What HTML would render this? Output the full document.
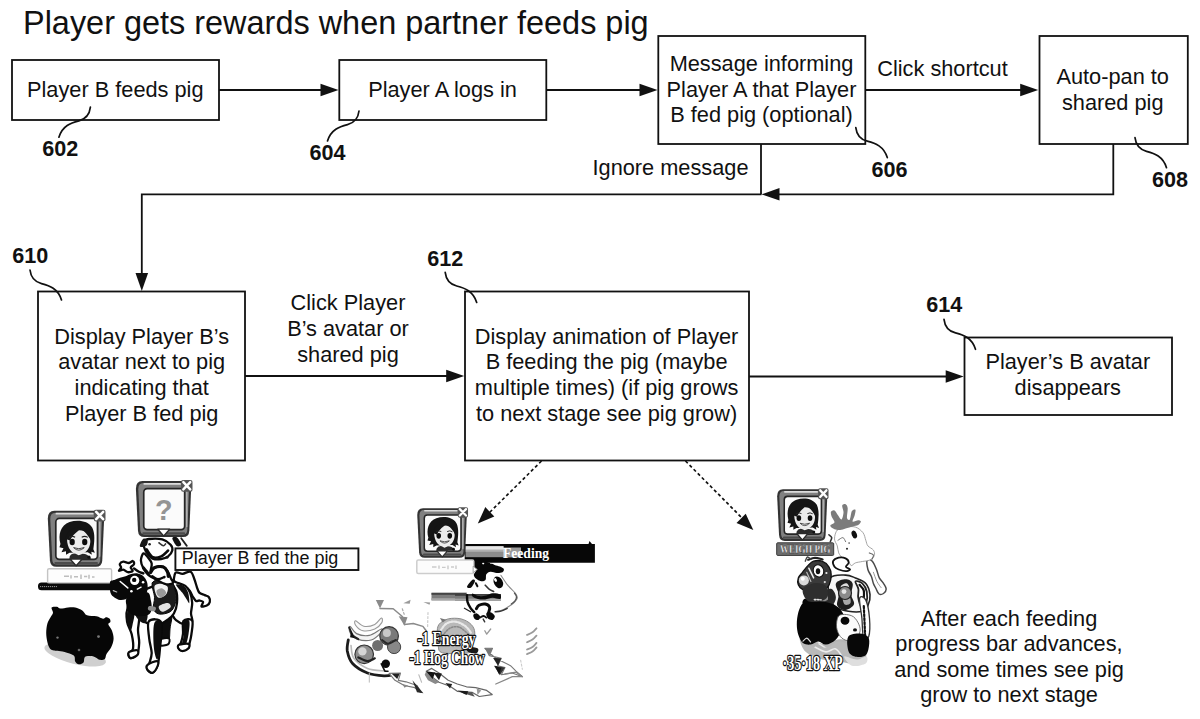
<!DOCTYPE html>
<html lang="en">
<head>
<meta charset="utf-8">
<title>Player gets rewards when partner feeds pig</title>
<style>
html,body{margin:0;padding:0;background:#fff;}
body{width:1200px;height:719px;overflow:hidden;position:relative;font-family:"Liberation Sans",sans-serif;}
svg{position:absolute;left:0;top:0;display:block;}
text{font-family:"Liberation Sans",sans-serif;fill:#111;}
.t{font-size:21.75px;text-anchor:middle;}
.n{font-size:21.6px;font-weight:bold;}
.bx{fill:#fff;stroke:#111;stroke-width:1.8;}
.ln{fill:none;stroke:#111;stroke-width:1.8;}
.ld{fill:none;stroke:#111;stroke-width:1.7;stroke-linecap:round;}
.ah{fill:#111;stroke:none;}
</style>
</head>
<body>
<svg width="1200" height="719" viewBox="0 0 1200 719">
<rect width="1200" height="719" fill="#fff"/>
<!-- TITLE -->
<text x="23" y="34.2" style="font-size:32.45px">Player gets rewards when partner feeds pig</text>

<!-- BOXES -->
<rect class="bx" x="12" y="60" width="207" height="60"/>
<rect class="bx" x="339.3" y="60" width="207" height="60"/>
<rect class="bx" x="658.3" y="36" width="207" height="108"/>
<rect class="bx" x="1039.5" y="36" width="148.3" height="108"/>
<rect class="bx" x="38" y="291.5" width="207" height="169"/>
<rect class="bx" x="465" y="291.5" width="284" height="169"/>
<rect class="bx" x="964.5" y="337.5" width="207.5" height="77.5"/>

<!-- CONNECTORS -->
<path class="ln" d="M219 90H322"/><path class="ah" d="M338.5 90l-18-6.3v12.6z"/>
<path class="ln" d="M546.3 90H641"/><path class="ah" d="M657.5 90l-18-6.3v12.6z"/>
<path class="ln" d="M865.3 90H1022"/><path class="ah" d="M1038.2 90l-18-6.3v12.6z"/>
<path class="ln" d="M761 144V194.3"/>
<path class="ln" d="M1113.3 144V194.3H778"/><path class="ah" d="M761.5 194.3l18-6.3v12.6z"/>
<path class="ln" d="M761.5 194.3H141.8V275"/><path class="ah" d="M141.8 291l-6.3-18h12.6z"/>
<path class="ln" d="M245 376H448"/><path class="ah" d="M464.2 376l-18-6.3v12.6z"/>
<path class="ln" d="M749 376.5H947"/><path class="ah" d="M963.7 376.5l-18-6.3v12.6z"/>

<!-- BOX TEXT -->
<text class="t" x="115.3" y="96.7">Player B feeds pig</text>
<text class="t" x="442.5" y="96.7">Player A logs in</text>
<text class="t" x="761.5" y="71">Message informing</text>
<text class="t" x="761.5" y="96.7">Player A that Player</text>
<text class="t" x="761.5" y="122.3">B fed pig (optional)</text>
<text class="t" x="942.5" y="75.8">Click shortcut</text>
<text class="t" x="1112.7" y="84">Auto-pan to</text>
<text class="t" x="1112.7" y="109.7">shared pig</text>
<text class="t" x="670.5" y="174.6">Ignore message</text>
<text class="t" x="141.7" y="343.5">Display Player B’s</text>
<text class="t" x="141.7" y="369.3">avatar next to pig</text>
<text class="t" x="141.7" y="395">indicating that</text>
<text class="t" x="141.7" y="420.8">Player B fed pig</text>
<text class="t" x="348" y="310">Click Player</text>
<text class="t" x="348" y="335.7">B’s avatar or</text>
<text class="t" x="348" y="361.5">shared pig</text>
<text class="t" x="606.6" y="343.7">Display animation of Player</text>
<text class="t" x="606.6" y="369.3">B feeding the pig (maybe</text>
<text class="t" x="606.6" y="395">multiple times) (if pig grows</text>
<text class="t" x="606.6" y="420.8">to next stage see pig grow)</text>
<text class="t" x="1067.8" y="369.3">Player’s B avatar</text>
<text class="t" x="1067.8" y="395">disappears</text>
<text class="t" x="1009" y="625.7">After each feeding</text>
<text class="t" x="1009" y="651.4">progress bar advances,</text>
<text class="t" x="1009" y="677">and some times see pig</text>
<text class="t" x="1009" y="702.4">grow to next stage</text>

<!-- REFERENCE NUMBERS -->
<text class="n" x="42.2" y="156.3">602</text>
<text class="n" x="309.5" y="160.2">604</text>
<text class="n" x="871.5" y="176.8">606</text>
<text class="n" x="1152" y="187.3">608</text>
<text class="n" x="12.3" y="262.8">610</text>
<text class="n" x="427.3" y="265.8">612</text>
<text class="n" x="926.3" y="312.3">614</text>

<!-- LEADERS -->
<path class="ld" d="M90.4 107.2c-0.8 7 -5 12 -11.5 13.6c-8 2 -16.5 5 -20 16.4"/>
<path class="ld" d="M359 111c-0.8 7 -5 12 -11.5 13.6c-8 2 -16.5 5 -20 16.4"/>
<path class="ld" d="M855.8 127.6c0.8 7 5 12 11.5 13.6c8 2 16.5 5 20 16.4"/>
<path class="ld" d="M1135 137.7c0.8 7 5 12 11.5 13.6c8 2 16.5 5 20 16.4"/>
<path class="ld" d="M30 270c0.8 7 5 12 11.5 13.6c8 2 16.5 5 20 16.4"/>
<path class="ld" d="M445.2 272.4c0.8 7 5 12 11.5 13.6c8 2 16.5 5 20 16.4"/>
<path class="ld" d="M944 319.3c0.8 7 5 12 11.5 13.6c8 2 16.5 5 20 16.4"/>

<!-- DOTTED ARROWS -->
<path d="M541.5 461L487 515" fill="none" stroke="#111" stroke-width="1.7" stroke-dasharray="3.2 2.6"/>
<path class="ah" d="M477.8 523.6l7.5-16.5 9 9.4z"/>
<path d="M685.5 461L744 520" fill="none" stroke="#111" stroke-width="1.7" stroke-dasharray="3.2 2.6"/>
<path class="ah" d="M753.3 530l-16.8-7 9.2-9.3z"/>

<!-- ILLUSTRATIONS -->
<g id="ill1">
<ellipse cx="75.2" cy="654.7" rx="31.7" ry="9.2" fill="#cfcfcf" transform="rotate(14 75.2 654.7)"/>
<path d="M51.6 607.4 C52.2 606.4 55.4 606.6 56.9 606.8 C58.4 607.0 58.5 608.5 60.4 608.6 C62.3 608.7 65.6 607.6 68.1 607.4 C70.6 607.2 72.8 607.0 75.2 607.5 C77.6 608.0 80.3 609.1 82.3 610.4 C84.3 611.7 84.6 614.3 87.0 615.3 C89.4 616.3 93.8 615.7 96.5 616.3 C99.2 616.9 101.4 618.6 103.0 618.7 C104.6 618.9 104.9 617.2 106.0 617.2 C107.1 617.2 109.0 617.9 109.7 618.7 C110.4 619.5 110.6 621.1 110.4 622.0 C110.2 622.9 108.0 622.9 108.3 624.3 C108.5 625.7 111.0 628.1 111.9 630.5 C112.8 632.9 113.7 636.0 113.6 638.8 C113.5 641.5 112.5 644.5 111.3 647.0 C110.1 649.5 107.6 652.1 106.5 654.1 C105.4 656.1 106.0 658.0 104.8 658.9 C103.6 659.8 101.3 660.2 99.5 659.8 C97.7 659.4 96.5 657.2 94.1 656.7 C91.7 656.2 87.1 655.7 85.3 656.7 C83.5 657.7 84.6 661.3 83.5 662.6 C82.4 663.9 80.2 664.5 78.8 664.3 C77.4 664.1 76.0 663.0 75.2 661.5 C74.4 660.0 75.6 657.1 73.8 655.5 C72.0 653.9 67.3 652.8 64.6 652.0 C61.9 651.2 59.3 651.0 57.5 650.8 C55.7 650.6 55.1 650.9 53.9 650.6 C52.7 650.3 51.2 650.2 50.1 648.8 C49.0 647.4 48.0 645.0 47.4 642.3 C46.8 639.6 46.2 635.9 46.2 632.8 C46.2 629.6 46.7 625.9 47.4 623.4 C48.1 620.9 49.5 619.3 50.4 617.5 C51.3 615.7 52.8 614.4 53.0 612.7 C53.2 611.0 51.0 608.4 51.6 607.4Z" fill="#060606"/>
<circle cx="57.5" cy="637.6" r="1.2" fill="#777"/><circle cx="98.5" cy="636.6" r="1.4" fill="#777"/><circle cx="79.0" cy="650.0" r="1.3" fill="#666"/>
<rect x="38" y="582.6" width="82" height="7.6" rx="3.5" fill="#0a0a0a"/>
<rect x="47.6" y="568.7" width="64" height="14.2" rx="1.5" fill="#fdfdfd" stroke="#c4c4c4" stroke-width="1.4"/>
<path d="M64 576.2h5M71 575.2v3.4M74 576.8h4M81 574.6v4.4M84 576.4h3.2M89 574.8v4M92 577h2.5" stroke="#bdbdbd" stroke-width="1.5" fill="none"/>
<path d="M40 586.6h17" stroke="#9a9a9a" stroke-width="1" stroke-dasharray="1.2 0.8" fill="none"/>
<g transform="translate(47.3 510.3) scale(1.012 1.023)">
<path d="M7 0.5H52.5Q56.5 0.5 56.3 5L54.3 49Q54 55.2 48 55.2H9Q3 55.2 2.6 49L0.5 8Q0.5 0.5 7 0.5Z" fill="#333"/>
<path d="M8 2.4H51Q54.2 2.4 54.1 6L52.3 48.5Q52 53 48 53H9.5Q5.2 53 4.9 48.5L2.9 8.5Q2.9 2.4 8 2.4Z" fill="#808080"/>
<path d="M9 3.3H45" stroke="#dcdcdc" stroke-width="1.7" fill="none" stroke-linecap="round"/>
<path d="M51.6 11V45" stroke="#b2b2b2" stroke-width="1.6" fill="none" stroke-linecap="round"/>
<path d="M8 51.6H49" stroke="#4c4c4c" stroke-width="2.2" fill="none" stroke-linecap="round"/>
<rect x="8.4" y="8" width="41.2" height="40" rx="3.5" fill="#fbfbfb" stroke="#262626" stroke-width="1.7"/>
<path d="M22.5 47.6H34.5L28.5 54.2Z" fill="#fff" stroke="#2a2a2a" stroke-width="1.3" stroke-linejoin="round"/>
<rect x="46" y="-0.5" width="11.5" height="11.5" rx="2" fill="#555"/>
<path d="M48.3 1.6L55.2 8.6M55.2 1.6L48.3 8.6" stroke="#fff" stroke-width="2.5" stroke-linecap="round" fill="none"/>
<path d="M13 33C10.5 24 13 14.5 22 11.5C30 9 40 10 44.5 17C47.5 23 46.5 31 45.5 38L47 41.5L43.5 40.5L44 43.5L40 41L22 41.5L18.5 43.5L18.5 40L14 41L16 37L12 36Z" fill="#151515"/>
<path d="M19.5 28C19.5 21 26 18.5 31.5 19.5C38.5 20 43 24 42.5 31C42 38.5 37 43 31 43C24.5 43 19.5 37 19.5 28Z" fill="#ececec"/>
<path d="M18 28C19 20 27 15 35 17C30 20 25 24 22.5 29.5Z" fill="#151515"/>
<path d="M33 17C38 17.5 43.5 22 43.5 30C41 25 37 21 33 17Z" fill="#151515"/>
<ellipse cx="24.6" cy="31" rx="2.6" ry="3.1" fill="#0c0c0c"/><ellipse cx="37" cy="31" rx="2.6" ry="3.1" fill="#0c0c0c"/>
<path d="M21.5 26.5Q24.5 24.6 27.5 26.3M34 26.3Q37 24.6 40 26.5" stroke="#222" stroke-width="1" fill="none"/>
<path d="M26 36.5Q31 41.5 36.5 36.5Q31 38.6 26 36.5Z" fill="#fff" stroke="#333" stroke-width="0.9"/>
<path d="M22 45.5Q24 41.5 28 42.5L31 44L35 42.5Q40 42.5 41.5 46L43.5 47.5H22Z" fill="#2a2a2a"/>
<circle cx="41.2" cy="45.8" r="1.6" fill="#111"/>
</g>
<path d="M175.5 572.8 C176.9 571.1 180.1 574.0 182.6 573.8 C185.1 573.6 188.6 570.8 190.6 571.7 C192.6 572.6 193.3 576.5 194.3 579.0 C195.3 581.5 196.0 584.5 196.8 586.8 C197.6 589.1 198.0 591.2 199.3 592.6 C200.6 594.0 203.1 594.3 204.7 595.1 C206.3 595.9 208.1 596.1 208.9 597.2 C209.8 598.4 210.2 600.6 209.8 602.0 C209.5 603.4 208.2 604.8 206.8 605.5 C205.4 606.2 202.0 607.0 201.4 606.4 C200.8 605.8 203.4 603.0 203.1 602.0 C202.8 601.0 200.5 600.7 199.3 600.5 C198.1 600.3 197.1 601.7 196.0 601.0 C194.9 600.3 193.7 598.1 192.6 596.4 C191.5 594.6 190.9 592.1 189.5 590.5 C188.1 588.9 186.1 587.6 184.3 586.8 C182.5 586.0 180.2 586.4 178.5 585.9 C176.8 585.4 174.4 586.0 173.9 583.8 C173.4 581.6 174.1 574.5 175.5 572.8Z" fill="#fff" stroke="#0a0a0a" stroke-width="2.3" stroke-linejoin="round" stroke-linecap="round"/>
<path d="M167.6 579.0 C169.3 577.3 173.1 581.1 176.0 582.2 C178.9 583.4 183.0 584.2 185.3 585.9 C187.7 587.6 188.9 589.8 190.1 592.6 C191.2 595.5 192.0 599.5 192.2 603.0 C192.3 606.5 191.0 610.4 191.0 613.5 C191.0 616.6 193.3 620.0 192.2 621.8 C191.1 623.6 187.0 624.6 184.3 624.3 C181.6 624.0 178.2 622.0 176.0 620.2 C173.8 618.4 172.8 615.3 171.4 613.5 C170.0 611.7 168.6 612.8 167.6 609.3 C166.6 605.8 165.5 597.6 165.5 592.6 C165.5 587.6 165.8 580.7 167.6 579.0Z" fill="#fff" stroke="#0a0a0a" stroke-width="2.3" stroke-linejoin="round" stroke-linecap="round"/>
<path d="M176.0 584.7 C176.3 583.6 181.9 584.6 183.9 585.9 C185.9 587.2 187.2 589.8 188.1 592.6 C189.0 595.5 189.6 602.0 189.3 603.0 C189.0 604.0 187.6 600.6 186.4 598.9 C185.2 597.2 183.9 595.0 182.2 592.6 C180.5 590.2 175.7 585.8 176.0 584.7Z" fill="#111"/>
<path d="M159.7 611.8 C161.3 609.4 169.7 610.8 171.4 613.5 C173.1 616.2 170.6 623.3 170.1 628.1 C169.6 632.9 170.0 639.7 168.4 642.3 C166.8 644.9 161.8 644.5 160.5 643.9 C159.2 643.3 160.7 641.1 160.9 638.5 C161.1 635.9 162.0 632.6 161.8 628.1 C161.6 623.6 158.1 614.2 159.7 611.8Z" fill="#0d0d0d" stroke="#0a0a0a" stroke-width="1" stroke-linejoin="round" stroke-linecap="round"/>
<path d="M159.7 639.3 C161.2 638.2 167.5 637.6 168.9 638.5 C170.3 639.4 169.5 643.3 168.0 644.4 C166.5 645.5 161.1 646.1 159.7 645.2 C158.3 644.4 158.2 640.4 159.7 639.3Z" fill="#fff" stroke="#0a0a0a" stroke-width="2" stroke-linejoin="round" stroke-linecap="round"/>
<path d="M183.5 621.0 C185.0 618.8 190.9 618.4 192.2 620.6 C193.5 622.8 191.9 630.3 191.4 634.3 C190.9 638.3 189.8 642.1 189.3 644.4 C188.8 646.7 189.6 647.0 188.5 648.1 C187.4 649.2 184.3 651.0 182.6 651.0 C180.9 651.0 178.8 649.5 178.5 648.1 C178.2 646.7 180.2 645.1 181.0 642.7 C181.8 640.3 182.6 637.5 183.0 633.9 C183.4 630.3 182.0 623.2 183.5 621.0Z" fill="#fff" stroke="#0a0a0a" stroke-width="2.3" stroke-linejoin="round" stroke-linecap="round"/>
<path d="M183.0 621.4 C183.9 619.2 188.4 618.9 189.3 621.0 C190.2 623.1 189.1 630.5 188.5 634.3 C187.9 638.1 187.1 642.1 186.0 643.7 C184.9 645.3 182.5 645.3 182.2 643.7 C181.8 642.1 183.8 637.6 183.9 633.9 C184.0 630.2 182.1 623.5 183.0 621.4Z" fill="#0d0d0d"/>
<path d="M178.9 644.8 C180.6 644.0 186.9 643.3 188.5 643.9 C190.1 644.5 189.5 646.9 188.5 648.1 C187.5 649.3 184.3 650.9 182.6 651.0 C180.9 651.1 179.1 649.5 178.5 648.5 C177.9 647.5 177.2 645.6 178.9 644.8Z" fill="#fff" stroke="#0a0a0a" stroke-width="2.2" stroke-linejoin="round" stroke-linecap="round"/>
<path d="M127.5 610.3 C127.3 607.9 128.2 601.8 130.0 598.9 C131.8 596.0 134.6 594.7 138.4 592.6 C142.2 590.5 148.1 588.0 153.0 586.3 C157.9 584.6 163.8 581.5 167.6 582.2 C171.4 582.9 174.4 587.0 176.0 590.5 C177.6 594.0 177.3 599.2 177.0 603.0 C176.7 606.8 175.5 610.7 173.9 613.5 C172.3 616.3 170.0 617.9 167.6 619.7 C165.2 621.5 162.6 623.5 159.7 624.3 C156.8 625.1 153.4 625.4 149.9 624.3 C146.4 623.2 141.5 619.4 138.4 617.6 C135.3 615.8 132.9 614.7 131.1 613.5 C129.3 612.3 127.7 612.7 127.5 610.3Z" fill="#fff" stroke="#0a0a0a" stroke-width="2.3" stroke-linejoin="round" stroke-linecap="round"/>
<path d="M128.0 608.9 C129.9 607.6 137.1 610.3 138.8 613.9 C140.5 617.5 137.9 625.4 138.0 630.2 C138.1 635.0 139.3 638.6 139.2 642.7 C139.0 646.8 138.5 652.2 137.1 654.8 C135.7 657.4 131.9 658.3 130.5 658.1 C129.1 657.9 128.0 655.0 128.4 653.5 C128.8 652.0 132.4 652.1 133.0 648.9 C133.6 645.7 132.7 638.8 131.7 634.3 C130.7 629.8 127.7 626.0 127.1 621.8 C126.5 617.6 126.0 610.2 128.0 608.9Z" fill="#fff" stroke="#0a0a0a" stroke-width="2.3" stroke-linejoin="round" stroke-linecap="round"/>
<path d="M128.0 609.9 C129.2 608.5 133.4 611.0 134.2 613.5 C134.9 616.0 133.1 622.1 132.5 624.9 C131.9 627.7 131.4 630.7 130.5 630.2 C129.6 629.7 127.5 625.2 127.1 621.8 C126.7 618.4 126.8 611.3 128.0 609.9Z" fill="#0d0d0d"/>
<path d="M128.8 652.3 C129.9 651.0 135.6 649.8 137.1 650.2 C138.6 650.6 138.7 653.5 137.6 654.8 C136.5 656.1 132.0 658.5 130.5 658.1 C129.0 657.7 127.7 653.6 128.8 652.3Z" fill="#fff" stroke="#0a0a0a" stroke-width="2.2" stroke-linejoin="round" stroke-linecap="round"/>
<path d="M148.8 621.4 C150.8 618.7 159.4 618.1 161.3 622.4 C163.2 626.6 160.7 640.0 160.1 646.9 C159.5 653.8 159.2 659.3 158.0 663.6 C156.8 667.9 154.4 671.8 152.6 672.7 C150.8 673.6 147.8 670.5 147.2 669.0 C146.6 667.5 148.4 666.2 149.2 663.6 C149.9 661.0 151.7 657.3 151.7 653.1 C151.7 648.9 149.7 643.8 149.2 638.5 C148.7 633.2 146.8 624.1 148.8 621.4Z" fill="#fff" stroke="#0a0a0a" stroke-width="2.3" stroke-linejoin="round" stroke-linecap="round"/>
<path d="M154.2 623.5 C155.4 619.5 160.3 619.0 161.3 622.9 C162.3 626.8 160.8 640.8 160.1 646.9 C159.4 653.0 158.2 659.4 157.2 659.4 C156.1 659.4 154.3 652.9 153.8 646.9 C153.3 640.9 152.9 627.5 154.2 623.5Z" fill="#0d0d0d"/>
<path d="M147.6 664.8 C149.3 663.4 155.5 660.9 157.2 661.1 C158.9 661.3 158.4 664.2 157.6 666.1 C156.8 668.0 154.3 672.2 152.6 672.7 C150.9 673.2 148.0 670.7 147.2 669.4 C146.4 668.1 145.9 666.2 147.6 664.8Z" fill="#fff" stroke="#0a0a0a" stroke-width="2.2" stroke-linejoin="round" stroke-linecap="round"/>
<path d="M135.5 613.1 C136.4 611.1 142.2 608.1 144.2 608.5 C146.2 608.9 147.4 613.2 147.6 615.6 C147.8 618.0 146.6 622.3 145.1 623.1 C143.6 623.9 140.4 621.9 138.8 620.2 C137.2 618.5 134.6 615.1 135.5 613.1Z" fill="#111"/>
<path d="M127.8 597.3 C131.1 595.0 142.8 591.8 146.7 592.3 C150.5 592.8 150.1 597.5 150.9 600.6 C151.7 603.7 152.0 608.2 151.4 610.6 C150.8 613.0 149.6 614.4 147.3 615.3 C145.0 616.2 140.7 616.4 137.8 616.0 C134.9 615.6 131.8 614.5 130.0 612.9 C128.2 611.3 127.1 608.8 126.7 606.2 C126.3 603.6 124.5 599.6 127.8 597.3Z" fill="#080808"/>
<path d="M152.3 582.8 C153.6 579.8 159.0 579.5 162.3 579.5 C165.6 579.5 170.1 580.6 172.3 582.8 C174.5 585.0 175.1 589.3 175.6 592.8 C176.1 596.3 176.0 600.8 175.1 604.0 C174.2 607.2 172.8 610.1 170.1 611.8 C167.4 613.5 161.7 614.6 158.9 614.0 C156.1 613.4 154.1 611.2 153.4 608.4 C152.7 605.6 154.7 601.6 154.5 597.3 C154.3 593.0 151.0 585.8 152.3 582.8Z" fill="#1c1c1c" stroke="#0a0a0a" stroke-width="1" stroke-linejoin="round" stroke-linecap="round"/>
<path d="M154.5 586.2 C155.2 584.0 160.1 583.7 162.3 583.9 C164.5 584.1 167.2 585.4 167.8 587.3 C168.4 589.2 167.3 593.4 165.6 595.1 C163.9 596.8 159.7 598.8 157.8 597.3 C156.0 595.8 153.8 588.4 154.5 586.2Z" fill="#f2f2f2"/>
<path d="M156.7 590.6 C157.4 589.4 160.7 588.0 162.3 588.4 C163.9 588.8 166.2 591.3 166.2 592.8 C166.2 594.3 163.7 596.8 162.3 597.3 C160.9 597.8 158.7 596.7 157.8 595.6 C156.9 594.5 155.9 591.8 156.7 590.6Z" fill="#9a9a9a"/>
<path d="M158.9 606.2 C159.8 604.7 165.9 602.7 167.8 602.9 C169.8 603.1 171.5 605.8 170.6 607.3 C169.7 608.8 164.2 612.0 162.3 611.8 C160.4 611.6 158.0 607.7 158.9 606.2Z" fill="#e5e5e5"/>
<path d="M148.9 606.2 C150.1 605.7 154.7 606.5 155.6 607.3 C156.5 608.1 155.7 610.7 154.5 611.2 C153.3 611.7 149.3 610.9 148.4 610.1 C147.5 609.3 147.7 606.7 148.9 606.2Z" fill="#8d8d8d"/>
<path d="M143.4 553.4 C144.6 552.8 146.4 555.5 147.8 557.2 C149.2 558.9 151.2 561.0 151.7 563.4 C152.2 565.8 150.1 571.0 150.6 571.7 C151.1 572.4 152.4 568.3 154.5 567.5 C156.6 566.7 161.2 566.1 163.4 566.8 C165.6 567.5 166.5 569.7 167.8 571.7 C169.1 573.7 170.2 576.7 171.0 578.6 C171.8 580.5 173.7 582.2 172.8 583.1 C171.9 584.0 168.3 584.8 165.6 584.2 C162.9 583.6 159.5 581.2 156.7 579.7 C153.9 578.2 151.1 577.2 148.9 575.3 C146.7 573.4 144.7 570.8 143.4 568.4 C142.1 566.0 140.9 563.1 140.9 560.6 C140.9 558.1 142.2 554.0 143.4 553.4Z" fill="#fff" stroke="#0a0a0a" stroke-width="2.3" stroke-linejoin="round" stroke-linecap="round"/>
<path d="M150.6 572.6 C151.2 571.8 152.2 568.7 154.3 567.7 C156.4 566.8 161.2 566.2 163.4 566.9 C165.6 567.6 166.6 570.1 167.4 571.7 C168.2 573.3 168.2 575.6 168.3 576.4" fill="none" stroke="#0a0a0a" stroke-width="3.2" stroke-linejoin="round" stroke-linecap="round"/>
<path d="M152.3 576.2 C153.2 576.7 155.8 579.2 157.8 579.3 C159.8 579.4 163.4 577.4 164.5 577.0" fill="none" stroke="#0a0a0a" stroke-width="2.4" stroke-linejoin="round" stroke-linecap="round"/>
<path d="M143.4 567.8 C143.9 568.4 145.9 570.6 146.7 571.7 C147.5 572.8 148.1 573.8 148.4 574.2" fill="none" stroke="#0a0a0a" stroke-width="3" stroke-linejoin="round" stroke-linecap="round"/>
<path d="M143.4 541.9 C144.1 540.4 145.8 539.4 148.9 539.0 C152.1 538.6 158.7 538.4 162.3 539.4 C165.9 540.4 168.9 542.9 170.6 544.8 C172.3 546.7 172.7 548.7 172.3 550.6 C171.9 552.5 169.9 555.0 168.1 556.4 C166.2 557.8 163.6 558.6 161.2 559.0 C158.8 559.4 155.6 559.8 153.4 559.0 C151.2 558.2 149.3 555.9 147.8 554.1 C146.3 552.3 145.2 550.3 144.5 548.3 C143.8 546.3 142.7 543.4 143.4 541.9Z" fill="#fff" stroke="#0a0a0a" stroke-width="2.3" stroke-linejoin="round" stroke-linecap="round"/>
<path d="M139.8 545.9 C139.8 544.6 141.8 540.0 143.1 539.0 C144.4 538.0 147.0 539.1 147.6 540.1 C148.2 541.1 147.6 543.9 146.9 545.0 C146.2 546.1 144.6 546.9 143.4 547.0 C142.2 547.1 139.9 547.2 139.8 545.9Z" fill="#161616"/>
<path d="M146.7 549.5 C147.7 550.8 150.4 556.1 152.8 557.2 C155.2 558.4 158.6 557.5 161.2 556.4 C163.8 555.3 166.9 551.6 168.1 550.6" fill="none" stroke="#0a0a0a" stroke-width="2.6" stroke-linejoin="round" stroke-linecap="round"/>
<path d="M158.9 542.8 C159.7 543.3 162.3 545.5 163.4 545.7 C164.5 545.9 165.2 544.2 165.6 543.9" fill="none" stroke="#333" stroke-width="1.6" stroke-linejoin="round" stroke-linecap="round"/>
<circle cx="167.0" cy="557.2" r="1.5" fill="#111"/>
<circle cx="149.6" cy="544.3" r="1.3" fill="#222"/>
<path d="M172.3 538.3 C172.3 536.8 175.2 536.2 176.7 537.2 C178.2 538.2 181.2 543.0 181.2 544.5 C181.2 546.0 178.2 547.1 176.7 546.1 C175.2 545.1 172.3 539.8 172.3 538.3Z" fill="#111"/>
<path d="M181.2 538.3 L186.8 545.9" fill="none" stroke="#222" stroke-width="1.8" stroke-linejoin="round" stroke-linecap="round"/>
<path d="M110.0 582.3 C110.6 580.1 112.7 580.9 114.4 580.1 C116.1 579.4 118.1 578.4 120.0 577.8 C121.9 577.1 123.8 576.9 125.6 576.2 C127.4 575.6 129.1 574.4 131.1 573.9 C133.1 573.4 135.8 573.0 137.8 573.4 C139.9 573.8 141.9 574.8 143.4 576.2 C144.9 577.6 146.2 579.7 146.9 581.7 C147.6 583.7 147.8 586.2 147.6 588.4 C147.4 590.6 146.8 593.4 145.8 595.1 C144.8 596.8 143.1 597.9 141.4 598.6 C139.7 599.3 137.5 599.5 135.6 599.3 C133.7 599.1 131.7 597.5 130.0 597.5 C128.3 597.5 127.3 598.9 125.6 599.3 C123.9 599.7 121.9 600.3 120.0 600.0 C118.1 599.7 116.0 598.6 114.4 597.5 C112.8 596.4 111.3 595.6 110.6 593.1 C109.9 590.6 109.4 584.5 110.0 582.3Z" fill="#080808"/>
<circle cx="134.7" cy="580.4" r="4.6" fill="#fff"/>
<circle cx="134.2" cy="579.9" r="2.2" fill="#080808"/>
<path d="M120.2 581.5 L127.8 587.9" fill="none" stroke="#fff" stroke-width="1.5" stroke-linejoin="round" stroke-linecap="round"/>
<path d="M137.3 589.1 L141.1 587.1" fill="none" stroke="#fff" stroke-width="1.3" stroke-linejoin="round" stroke-linecap="round"/>
<circle cx="131.4" cy="591.3" r="1.3" fill="#fff"/><circle cx="143.1" cy="582.3" r="1.3" fill="#fff"/>
<path d="M113.3 590.6 L116.7 592.0" fill="none" stroke="#bbb" stroke-width="1.2" stroke-linejoin="round" stroke-linecap="round"/>
<path d="M118.9 570.8 C118.5 570.4 120.9 568.6 121.1 567.5 C121.2 566.4 119.4 565.1 119.8 564.1 C120.2 563.1 121.8 561.9 123.3 561.7 C124.8 561.5 127.3 563.1 128.9 563.0 C130.5 562.9 132.1 560.8 132.9 561.0 C133.8 561.2 134.4 563.0 134.0 564.1 C133.6 565.2 130.9 566.4 130.7 567.5 C130.5 568.6 133.2 570.0 132.7 570.8 C132.2 571.6 129.4 572.4 127.8 572.2 C126.2 572.0 124.8 569.9 123.3 569.7 C121.8 569.5 119.3 571.2 118.9 570.8Z" fill="#fff" stroke="#0a0a0a" stroke-width="2.3" stroke-linejoin="round" stroke-linecap="round"/>
<path d="M134.0 568.4 C134.8 569.0 137.3 570.9 138.9 571.7 C140.5 572.5 142.7 573.1 143.4 573.4" fill="none" stroke="#0a0a0a" stroke-width="2.4" stroke-linejoin="round" stroke-linecap="round"/>
<g transform="translate(135.4 480.5) scale(0.993 1.023)">
<path d="M7 0.5H52.5Q56.5 0.5 56.3 5L54.3 49Q54 55.2 48 55.2H9Q3 55.2 2.6 49L0.5 8Q0.5 0.5 7 0.5Z" fill="#333"/>
<path d="M8 2.4H51Q54.2 2.4 54.1 6L52.3 48.5Q52 53 48 53H9.5Q5.2 53 4.9 48.5L2.9 8.5Q2.9 2.4 8 2.4Z" fill="#808080"/>
<path d="M9 3.3H45" stroke="#dcdcdc" stroke-width="1.7" fill="none" stroke-linecap="round"/>
<path d="M51.6 11V45" stroke="#b2b2b2" stroke-width="1.6" fill="none" stroke-linecap="round"/>
<path d="M8 51.6H49" stroke="#4c4c4c" stroke-width="2.2" fill="none" stroke-linecap="round"/>
<rect x="8.4" y="8" width="41.2" height="40" rx="3.5" fill="#fbfbfb" stroke="#262626" stroke-width="1.7"/>
<path d="M22.5 47.6H34.5L28.5 54.2Z" fill="#fff" stroke="#2a2a2a" stroke-width="1.3" stroke-linejoin="round"/>
<rect x="46" y="-0.5" width="11.5" height="11.5" rx="2" fill="#555"/>
<path d="M48.3 1.6L55.2 8.6M55.2 1.6L48.3 8.6" stroke="#fff" stroke-width="2.5" stroke-linecap="round" fill="none"/>
<text x="28.6" y="38.8" text-anchor="middle" style="font-size:29px;font-weight:bold;fill:#949494">?</text>
</g>
</g><!--/ill1-->
<g id="ill2">
<path d="M348.3 640.0 C348.1 641.8 346.6 647.0 347.3 651.0 C348.1 655.0 349.4 660.1 352.8 663.8 C356.2 667.5 362.3 671.0 367.5 673.0 C372.7 675.0 379.4 675.5 384.0 675.8 C388.6 676.0 393.2 674.7 395.0 674.5" fill="none" stroke="#1c1c1c" stroke-width="2.8" stroke-linejoin="round" stroke-linecap="round"/>
<path d="M351.0 645.5 C351.5 647.6 351.1 654.5 353.8 658.3 C356.6 662.1 362.2 666.2 367.5 668.4 C372.8 670.5 382.8 670.7 385.8 671.2" fill="none" stroke="#bbb" stroke-width="1.6" stroke-linejoin="round" stroke-linecap="round"/>
<path d="M350.1 626.3 C351.2 626.4 353.3 632.1 356.5 633.6 C359.7 635.1 365.2 636.2 369.3 635.4 C373.4 634.6 379.4 629.4 381.3 629.0 C383.2 628.6 382.4 631.2 380.7 633.0 C379.0 634.8 375.1 639.0 371.2 640.0 C367.3 641.0 360.9 640.3 357.4 639.1 C353.9 637.9 351.3 634.8 350.1 632.7 C348.9 630.6 349.0 626.1 350.1 626.3Z" fill="#f4f4f4" stroke="#777" stroke-width="1.2" stroke-linejoin="round" stroke-linecap="round"/>
<path d="M355.6 620.8 C357.0 621.0 360.6 625.7 363.8 626.3 C367.0 626.9 371.9 625.8 374.8 624.4 C377.7 623.0 380.1 618.3 381.3 618.0 C382.5 617.7 382.9 620.8 381.8 622.6 C380.7 624.4 378.0 627.6 374.8 629.0 C371.6 630.4 366.1 631.4 362.9 630.8 C359.7 630.2 356.8 627.0 355.6 625.3 C354.4 623.6 354.2 620.6 355.6 620.8Z" fill="#fafafa" stroke="#999" stroke-width="1.1" stroke-linejoin="round" stroke-linecap="round"/>
<path d="M349.2 627.5 C349.8 628.8 351.3 633.5 352.8 635.4 C354.3 637.3 357.4 638.5 358.3 639.1" fill="none" stroke="#222" stroke-width="2" stroke-linejoin="round" stroke-linecap="round"/>
<circle cx="364.2" cy="654.3" r="9.3" fill="#8e8e8e" stroke="#333" stroke-width="1.2"/>
<circle cx="362.4" cy="651.4" r="4.2" fill="#d6d6d6"/>
<circle cx="389.1" cy="636.0" r="9.3" fill="#7a7a7a" stroke="#333" stroke-width="1.2"/>
<circle cx="386.9" cy="633.0" r="4" fill="#c9c9c9"/>
<circle cx="394.1" cy="647.0" r="6.6" fill="#888" stroke="#444" stroke-width="1"/>
<circle cx="377.6" cy="645.5" r="5.5" fill="#6f6f6f"/>
<circle cx="385.8" cy="663.8" r="4.2" fill="#0c0c0c"/>
<path d="M369.3 673.0 L369.3 682.2" fill="none" stroke="#bbb" stroke-width="1" stroke-linejoin="round" stroke-linecap="round"/>
<path d="M375.8 600.0 L384.0 600.0 L380.0 608.5Z" fill="#8a8a8a"/>
<path d="M380.0 608.5 L393.2 608.8 L402.3 616.5 L404.5 624.6 L413.3 623.5 L422.9 626.4 L426.2 630.8" fill="none" stroke="#8a8a8a" stroke-width="1.5" stroke-linejoin="round" stroke-linecap="round"/>
<path d="M398.7 616.2 L407.5 617.3 L404.5 625.7Z" fill="#8a8a8a"/>
<path d="M403.3 603.3 L410.6 599.7 L409.7 603.7Z" fill="#9a9a9a"/>
<path d="M423.4 601.9 L430.2 602.6 L429.5 604.8Z" fill="#9a9a9a"/>
<path d="M402.3 608.8 L404.2 614.3" fill="none" stroke="#aaa" stroke-width="1.2" stroke-linejoin="round" stroke-linecap="round" stroke-dasharray="2 2"/>
<path d="M428.0 612.5 L427.6 627.2" fill="none" stroke="#ccc" stroke-width="1.2" stroke-linejoin="round" stroke-linecap="round" stroke-dasharray="2 2"/>
<path d="M437.2 633.0 C437.3 629.5 437.2 626.8 439.0 624.4 C440.8 622.0 444.5 619.8 448.2 618.9 C451.9 618.0 457.2 618.0 461.0 618.9 C464.8 619.8 468.8 622.0 471.1 624.4 C473.4 626.8 474.7 629.3 474.8 633.0 C474.9 636.7 473.1 643.1 472.0 646.4 C470.9 649.7 473.2 651.7 468.3 652.8 C463.4 653.9 447.7 654.0 442.7 652.8 C437.7 651.6 439.0 648.8 438.1 645.5 C437.2 642.2 437.1 636.5 437.2 633.0Z" fill="#b9b9b9" stroke="#8a8a8a" stroke-width="1" stroke-linejoin="round" stroke-linecap="round"/>
<path d="M440.5 630.8 C441.3 629.7 443.5 625.9 445.4 624.4 C447.3 622.9 449.5 622.0 451.8 621.7 C454.1 621.4 456.8 621.7 459.2 622.6 C461.6 623.5 464.5 625.5 466.5 627.2 C468.5 628.9 470.3 632.0 471.1 633.0" fill="none" stroke="#e9e9e9" stroke-width="2.2" stroke-linejoin="round" stroke-linecap="round" stroke-dasharray="2 1.6"/>
<path d="M442.7 635.4 C443.9 634.2 447.2 629.5 450.0 628.1 C452.8 626.7 456.1 626.2 459.2 627.2 C462.2 628.2 466.8 633.0 468.3 634.1" fill="none" stroke="#8a8a8a" stroke-width="1.6" stroke-linejoin="round" stroke-linecap="round" stroke-dasharray="1.4 1.6"/>
<path d="M439.9 618.0 L446.3 619.8 L442.7 622.6Z" fill="#777"/>
<path d="M389.1 673.4 L400.5 673.0 L398.3 680.3 L406.0 681.8 L417.0 685.5 L420.7 692.3 L414.8 687.7 L404.2 685.5 L395.0 680.3Z" fill="#fff" stroke="#777" stroke-width="1.2" stroke-linejoin="round" stroke-linecap="round"/>
<path d="M391.7 673.7 L399.8 673.4 L397.2 678.9Z" fill="#222"/>
<path d="M402.3 684.0 L408.2 685.5 L404.5 687.7Z" fill="#888"/>
<path d="M426.2 671.2 L431.7 676.7 L439.0 682.2 L450.0 686.2 L457.3 691.3 L472.0 692.3 L479.3 696.5 L492.2 694.6 L486.7 690.4 L475.7 687.7 L466.5 686.8 L457.3 684.0 L448.2 680.3 L439.0 673.0 L431.7 668.4Z" fill="#fff" stroke="#666" stroke-width="1.2" stroke-linejoin="round" stroke-linecap="round"/>
<path d="M433.5 672.6 L441.9 673.4 L439.0 680.3Z" fill="#1a1a1a"/>
<path d="M426.2 671.2 L431.7 676.7 L439.0 682.2 L435.3 684.0 L428.0 680.3 L424.7 674.8Z" fill="#8a8a8a"/>
<path d="M445.4 683.1 L452.2 684.0 L450.0 688.6Z" fill="#222"/>
<path d="M460.1 692.3 L472.0 692.3 L474.8 696.8Z" fill="#555"/>
<path d="M476.6 687.7 L481.2 690.4 L477.5 695.0Z" fill="#999"/>
<path d="M418.8 674.8 L421.6 682.2" fill="none" stroke="#bbb" stroke-width="1.1" stroke-linejoin="round" stroke-linecap="round"/>
<path d="M484.8 648.3 L492.5 648.3 L489.4 655.6 L501.3 658.3 L497.7 665.7 L505.0 667.5 L501.3 674.8 L512.3 673.0 L522.4 676.7 L516.0 671.2 L510.5 665.7 L503.2 662.0 L495.8 658.3Z" fill="#fff" stroke="#777" stroke-width="1.1" stroke-linejoin="round" stroke-linecap="round"/>
<path d="M484.8 648.3 L492.5 648.3 L488.9 656.1Z" fill="#777"/>
<path d="M493.1 658.0 L501.3 658.3 L498.0 665.7Z" fill="#222"/>
<path d="M494.0 665.7 L505.0 667.5 L499.9 675.2Z" fill="#333"/>
<path d="M505.0 673.9 L516.0 672.1 L522.4 676.7 L512.3 676.7 L495.8 684.0" fill="none" stroke="#888" stroke-width="1.3" stroke-linejoin="round" stroke-linecap="round"/>
<path d="M520.6 660.2 L522.4 669.3" fill="none" stroke="#ccc" stroke-width="1.1" stroke-linejoin="round" stroke-linecap="round" stroke-dasharray="2 2"/>
<path d="M527.0 634.9 C527.9 634.5 530.9 633.4 532.5 632.3 C534.1 631.2 535.8 629.0 536.5 628.3" fill="none" stroke="#9a9a9a" stroke-width="1.8" stroke-linejoin="round" stroke-linecap="round"/>
<path d="M527.0 642.2 C527.9 641.8 530.9 640.7 532.5 639.6 C534.1 638.5 535.8 636.3 536.5 635.6" fill="none" stroke="#9a9a9a" stroke-width="1.8" stroke-linejoin="round" stroke-linecap="round"/>
<path d="M527.0 649.5 C527.9 649.1 530.9 648.1 532.5 647.0 C534.1 645.9 535.8 643.6 536.5 642.9" fill="none" stroke="#9a9a9a" stroke-width="1.8" stroke-linejoin="round" stroke-linecap="round"/>
<path d="M527.0 654.1 C527.9 653.7 530.9 652.7 532.5 651.6 C534.1 650.5 535.8 648.2 536.5 647.5" fill="none" stroke="#9a9a9a" stroke-width="1.8" stroke-linejoin="round" stroke-linecap="round"/>
<path d="M466.5 647.0 C468.0 646.4 475.8 647.3 477.5 648.3 C479.2 649.3 478.1 652.6 476.6 653.2 C475.1 653.8 470.0 652.9 468.3 651.9 C466.6 650.9 465.0 647.6 466.5 647.0Z" fill="#1a1a1a"/>
<path d="M484.8 630.8 L486.7 634.1 L490.7 629.0" fill="none" stroke="#999" stroke-width="1.3" stroke-linejoin="round" stroke-linecap="round"/>
<path d="M412.4 680.3 L418.8 687.7 L423.4 693.2 L417.0 692.3Z" fill="#2a2a2a"/>
<path d="M426.2 671.2 L435.3 672.6 L432.6 678.9Z" fill="#111"/>
<path d="M457.3 690.4 L468.3 691.3 L466.5 695.0Z" fill="#1a1a1a"/>
<path d="M494.9 665.7 L501.3 667.9 L499.1 674.5Z" fill="#111"/>
<path d="M351.0 630.8 L354.7 638.2 L350.1 637.3Z" fill="#111"/>
<path d="M381.3 663.8 L384.9 671.2 L388.0 671.2" fill="none" stroke="#111" stroke-width="1.6" stroke-linejoin="round" stroke-linecap="round"/>
<path d="M358.3 657.4 C359.8 658.0 364.8 661.0 367.5 661.1 C370.2 661.2 373.6 658.8 374.8 658.3" fill="none" stroke="#222" stroke-width="2.2" stroke-linejoin="round" stroke-linecap="round"/>
<path d="M382.2 640.0 C383.2 640.6 385.7 643.7 388.0 643.7 C390.3 643.7 394.6 640.6 395.9 640.0" fill="none" stroke="#2a2a2a" stroke-width="2" stroke-linejoin="round" stroke-linecap="round"/>
<text x="417.5" y="645" textLength="58" lengthAdjust="spacingAndGlyphs" style="font-family:'Liberation Serif',serif;font-size:19.5px;font-weight:bold;fill:#111;stroke:#111;stroke-width:2.6;stroke-linejoin:round">-1 Energy</text><text x="417.5" y="645" textLength="58" lengthAdjust="spacingAndGlyphs" style="font-family:'Liberation Serif',serif;font-size:19.5px;font-weight:bold;fill:#fff">-1 Energy</text>
<text x="409.5" y="664.2" textLength="75" lengthAdjust="spacingAndGlyphs" style="font-family:'Liberation Serif',serif;font-size:19.5px;font-weight:bold;fill:#111;stroke:#111;stroke-width:2.6;stroke-linejoin:round">-1 Hog Chow</text><text x="409.5" y="664.2" textLength="75" lengthAdjust="spacingAndGlyphs" style="font-family:'Liberation Serif',serif;font-size:19.5px;font-weight:bold;fill:#fff">-1 Hog Chow</text>
<rect x="431.5" y="592.8" width="69.5" height="7.6" fill="#7d7d7d"/><rect x="431.5" y="592.8" width="69.5" height="2" fill="#444"/><rect x="431.5" y="598.2" width="69.5" height="2.2" fill="#a8a8a8"/>
<path d="M475.9 575.9 C478.8 573.5 482.1 571.9 486.3 571.7 C490.5 571.5 497.2 572.5 500.9 574.8 C504.5 577.0 505.8 582.2 508.2 585.2 C510.6 588.2 513.5 590.4 515.0 592.5 C516.5 594.6 517.6 596.0 517.4 597.8 C517.2 599.6 515.6 601.6 513.9 603.2 C512.2 604.8 509.4 606.2 507.2 607.4 C505.0 608.6 503.0 609.8 500.9 610.5 C498.8 611.2 496.5 610.3 494.6 611.5 C492.7 612.7 491.8 616.2 489.4 617.6 C487.0 619.0 482.8 620.1 480.0 619.7 C477.2 619.4 474.8 617.9 472.7 615.5 C470.6 613.1 468.5 608.4 467.5 605.1 C466.5 601.8 466.3 598.8 466.5 595.7 C466.7 592.6 467.0 589.6 468.6 586.3 C470.2 583.0 472.9 578.3 475.9 575.9Z" fill="#fff"/>
<path d="M500.9 575.3 C502.0 576.9 505.4 582.3 507.7 585.2 C510.0 588.1 513.1 590.4 514.7 592.5 C516.3 594.6 517.5 596.0 517.3 597.8 C517.1 599.6 515.3 601.6 513.6 603.2 C511.9 604.8 509.3 606.2 507.2 607.4 C505.1 608.6 502.9 609.8 500.9 610.5 C498.9 611.2 496.1 611.3 495.2 611.5" fill="none" stroke="#8a8a8a" stroke-width="1.1" stroke-linejoin="round" stroke-linecap="round"/>
<path d="M511.3 604.0 C511.9 603.5 514.1 602.1 515.0 600.9 C515.9 599.7 516.6 598.0 516.5 596.7 C516.4 595.4 514.8 593.7 514.5 593.1" fill="none" stroke="#555" stroke-width="1.3" stroke-linejoin="round" stroke-linecap="round"/>
<rect x="455" y="594" width="46" height="6.8" fill="#7a7a7a"/><rect x="455" y="594" width="46" height="1.8" fill="#3f3f3f"/><rect x="455" y="598.6" width="46" height="2.2" fill="#a5a5a5"/>
<path d="M473.3 561.8 C474.9 560.7 479.4 560.5 482.1 560.7 C484.8 560.9 487.3 562.1 489.4 562.8 C491.5 563.5 492.9 564.3 494.6 564.9 C496.4 565.5 498.4 565.8 499.9 566.5 C501.4 567.2 503.4 568.1 503.8 569.1 C504.2 570.1 503.7 571.6 502.5 572.2 C501.3 572.8 498.7 573.0 496.7 572.9 C494.7 572.8 492.2 571.5 490.5 571.7 C488.8 571.9 487.1 572.9 486.3 574.3 C485.5 575.7 486.4 578.8 485.5 580.0 C484.6 581.2 482.7 581.5 481.1 581.3 C479.5 581.1 477.1 579.7 475.9 578.6 C474.7 577.5 473.8 576.1 473.8 574.8 C473.8 573.5 476.1 571.8 475.9 570.6 C475.7 569.4 473.1 569.0 472.7 567.5 C472.3 566.0 471.7 562.9 473.3 561.8Z" fill="#070707"/>
<circle cx="483.2" cy="563.3" r="1.1" fill="#fff"/><circle cx="491.0" cy="563.1" r="0.9" fill="#ddd"/>
<ellipse cx="498.3" cy="582.3" rx="4.4" ry="6.2" fill="#070707" transform="rotate(-28 498.3 582.3)"/>
<ellipse cx="495.5" cy="580.0" rx="1.3" ry="2" fill="#fff" transform="rotate(-28 495.5 580.0)"/>
<path d="M467.0 586.8 C467.2 585.5 470.9 581.0 472.2 580.0 C473.5 579.0 475.2 579.9 475.0 581.1 C474.8 582.4 472.5 586.5 471.2 587.5 C469.9 588.5 466.8 588.0 467.0 586.8Z" fill="#0d0d0d"/>
<path d="M475.9 583.2 L477.4 586.3" fill="none" stroke="#111" stroke-width="2" stroke-linejoin="round" stroke-linecap="round"/>
<path d="M485.2 585.2 C485.9 585.9 488.0 588.4 489.4 589.4 C490.8 590.4 492.9 591.1 493.6 591.5" fill="none" stroke="#333" stroke-width="1.6" stroke-linejoin="round" stroke-linecap="round"/>
<path d="M472.5 593.4 C473.6 593.3 476.7 595.8 479.0 596.1 C481.3 596.5 484.1 596.0 486.3 595.5 C488.6 595.0 490.2 593.4 492.5 593.2 C494.8 593.0 498.8 593.4 500.1 594.4 C501.4 595.4 501.4 598.4 500.1 599.0 C498.8 599.6 495.0 597.7 492.5 597.8 C490.0 597.9 487.6 599.2 485.2 599.4 C482.8 599.6 480.0 599.5 477.9 599.0 C475.8 598.5 473.4 597.4 472.5 596.5 C471.6 595.6 471.4 593.5 472.5 593.4Z" fill="#0a0a0a"/>
<path d="M467.0 595.2 C467.1 596.3 466.9 599.7 467.5 601.9 C468.1 604.1 469.5 606.5 470.6 608.2 C471.7 609.9 473.7 611.5 474.3 612.2" fill="none" stroke="#0a0a0a" stroke-width="2.4" stroke-linejoin="round" stroke-linecap="round"/>
<path d="M464.4 608.2 L470.6 611.8" fill="none" stroke="#222" stroke-width="1.2" stroke-linejoin="round" stroke-linecap="round"/>
<path d="M476.4 608.7 C476.8 608.1 477.5 606.1 479.0 605.3 C480.5 604.5 483.4 603.7 485.2 604.0 C487.0 604.3 489.0 605.8 489.6 607.2 C490.2 608.6 488.8 611.7 488.6 612.6" fill="none" stroke="#0a0a0a" stroke-width="3" stroke-linejoin="round" stroke-linecap="round"/>
<path d="M473.3 615.0 C473.6 614.0 475.8 613.1 476.9 613.4 C478.0 613.6 479.9 615.4 480.2 616.5 C480.5 617.6 479.4 619.5 478.5 619.9 C477.6 620.3 475.7 619.9 474.8 619.1 C473.9 618.3 473.0 616.0 473.3 615.0Z" fill="#0a0a0a"/>
<path d="M486.3 613.4 C486.7 612.3 489.1 611.8 490.5 612.2 C491.9 612.6 494.5 614.7 494.8 616.0 C495.1 617.3 493.6 619.5 492.5 619.9 C491.4 620.3 488.9 619.7 487.9 618.6 C486.9 617.5 485.9 614.5 486.3 613.4Z" fill="#0a0a0a"/>
<path d="M480.0 617.6 C480.6 617.3 482.6 616.0 483.7 616.0 C484.8 616.0 485.9 617.3 486.3 617.6" fill="none" stroke="#111" stroke-width="1.8" stroke-linejoin="round" stroke-linecap="round"/>
<path d="M495.2 611.8 C496.1 611.7 498.9 611.7 500.9 611.1 C502.9 610.5 506.1 608.9 507.2 608.4" fill="none" stroke="#333" stroke-width="1.4" stroke-linejoin="round" stroke-linecap="round"/>
<path d="M483.2 619.1 L484.7 621.8" fill="none" stroke="#333" stroke-width="1.4" stroke-linejoin="round" stroke-linecap="round"/>
<path d="M464.7 544H588.5L589.5 541L592 544H594.9V562.8H464.7Z" fill="#070707"/>
<rect x="465.5" y="546.2" width="38" height="11" fill="#8c8c8c"/><rect x="465.5" y="546.2" width="38" height="3.6" fill="#e6e6e6"/><rect x="465.5" y="549.8" width="38" height="2" fill="#b0b0b0"/>
<text x="503" y="557.6" textLength="46" lengthAdjust="spacingAndGlyphs" style="font-family:'Liberation Serif',serif;font-size:14.5px;font-weight:bold;fill:#fff">Feeding</text>
<rect x="503" y="547.5" width="18" height="10" fill="#fff" opacity=".6"/>
<rect x="416.8" y="560" width="57" height="13.6" rx="1.5" fill="#fcfcfc" stroke="#cdcdcd" stroke-width="1.5"/>
<path d="M432 567h4.5M439 565.6v3.2M442 567.4h3.6M448 565.4v3.8M451 567h3M456 565.6v3.4" stroke="#cacaca" stroke-width="1.4" fill="none"/>
<path d="M473.4 566.4 L477.3 569.5 L473.4 572.4Z" fill="#fff" stroke="#999" stroke-width="0.8" stroke-linejoin="round" stroke-linecap="round"/>
<g transform="translate(416.8 507.7) scale(0.891 0.908)">
<path d="M7 0.5H52.5Q56.5 0.5 56.3 5L54.3 49Q54 55.2 48 55.2H9Q3 55.2 2.6 49L0.5 8Q0.5 0.5 7 0.5Z" fill="#333"/>
<path d="M8 2.4H51Q54.2 2.4 54.1 6L52.3 48.5Q52 53 48 53H9.5Q5.2 53 4.9 48.5L2.9 8.5Q2.9 2.4 8 2.4Z" fill="#808080"/>
<path d="M9 3.3H45" stroke="#dcdcdc" stroke-width="1.7" fill="none" stroke-linecap="round"/>
<path d="M51.6 11V45" stroke="#b2b2b2" stroke-width="1.6" fill="none" stroke-linecap="round"/>
<path d="M8 51.6H49" stroke="#4c4c4c" stroke-width="2.2" fill="none" stroke-linecap="round"/>
<rect x="8.4" y="8" width="41.2" height="40" rx="3.5" fill="#fbfbfb" stroke="#262626" stroke-width="1.7"/>
<path d="M22.5 47.6H34.5L28.5 54.2Z" fill="#fff" stroke="#2a2a2a" stroke-width="1.3" stroke-linejoin="round"/>
<rect x="46" y="-0.5" width="11.5" height="11.5" rx="2" fill="#555"/>
<path d="M48.3 1.6L55.2 8.6M55.2 1.6L48.3 8.6" stroke="#fff" stroke-width="2.5" stroke-linecap="round" fill="none"/>
<path d="M13 33C10.5 24 13 14.5 22 11.5C30 9 40 10 44.5 17C47.5 23 46.5 31 45.5 38L47 41.5L43.5 40.5L44 43.5L40 41L22 41.5L18.5 43.5L18.5 40L14 41L16 37L12 36Z" fill="#151515"/>
<path d="M19.5 28C19.5 21 26 18.5 31.5 19.5C38.5 20 43 24 42.5 31C42 38.5 37 43 31 43C24.5 43 19.5 37 19.5 28Z" fill="#ececec"/>
<path d="M18 28C19 20 27 15 35 17C30 20 25 24 22.5 29.5Z" fill="#151515"/>
<path d="M33 17C38 17.5 43.5 22 43.5 30C41 25 37 21 33 17Z" fill="#151515"/>
<ellipse cx="24.6" cy="31" rx="2.6" ry="3.1" fill="#0c0c0c"/><ellipse cx="37" cy="31" rx="2.6" ry="3.1" fill="#0c0c0c"/>
<path d="M21.5 26.5Q24.5 24.6 27.5 26.3M34 26.3Q37 24.6 40 26.5" stroke="#222" stroke-width="1" fill="none"/>
<path d="M26 36.5Q31 41.5 36.5 36.5Q31 38.6 26 36.5Z" fill="#fff" stroke="#333" stroke-width="0.9"/>
<path d="M22 45.5Q24 41.5 28 42.5L31 44L35 42.5Q40 42.5 41.5 46L43.5 47.5H22Z" fill="#2a2a2a"/>
<circle cx="41.2" cy="45.8" r="1.6" fill="#111"/>
</g>
</g><!--/ill2-->
<g id="ill3">
<path d="M808.8 639.3 C811.2 638.3 818.1 643.7 823.5 643.7 C828.9 643.7 834.7 638.8 841.0 639.3 C847.3 639.8 857.4 643.4 861.5 646.6 C865.6 649.8 867.3 655.5 865.8 658.3 C864.3 661.1 857.8 663.4 852.7 663.6 C847.6 663.9 840.6 661.2 835.2 659.8 C829.8 658.4 824.9 657.1 820.5 655.4 C816.1 653.7 810.8 652.2 808.8 649.5 C806.8 646.8 806.3 640.3 808.8 639.3Z" fill="#b5b5b5"/>
<path d="M819.1 643.7 C821.3 644.9 827.8 650.5 832.2 651.0 C836.6 651.5 841.2 645.9 845.4 646.6 C849.5 647.3 855.1 653.9 857.1 655.4" fill="none" stroke="#e8e8e8" stroke-width="1.6" stroke-linejoin="round" stroke-linecap="round"/>
<path d="M867.2 559.8 C867.9 558.4 870.8 559.6 872.3 561.2 C873.8 562.8 875.3 566.7 876.5 569.5 C877.7 572.3 878.1 575.6 879.3 577.9 C880.5 580.2 882.4 581.5 883.5 583.4 C884.6 585.2 886.2 587.3 886.2 589.0 C886.2 590.7 884.7 592.7 883.5 593.5 C882.3 594.3 880.2 594.8 879.0 594.0 C877.8 593.2 877.1 590.8 876.2 589.0 C875.3 587.2 874.2 585.5 873.4 583.4 C872.6 581.3 872.3 578.8 871.4 576.5 C870.5 574.2 868.6 572.3 867.9 569.5 C867.2 566.7 866.5 561.2 867.2 559.8Z" fill="#fff" stroke="#4a4a4a" stroke-width="1.5" stroke-linejoin="round" stroke-linecap="round"/>
<path d="M873.4 572.3 C874.0 573.8 875.6 578.8 876.9 581.4 C878.2 584.0 880.4 586.6 881.1 587.6" fill="none" stroke="#999" stroke-width="1" stroke-linejoin="round" stroke-linecap="round"/>
<path d="M830.3 577.9 C833.1 574.2 841.4 575.1 845.6 575.1 C849.8 575.1 852.0 576.5 855.4 577.9 C858.8 579.3 863.4 580.6 865.8 583.4 C868.2 586.2 869.6 590.9 870.0 594.6 C870.4 598.3 869.2 602.9 867.9 605.7 C866.6 608.5 865.5 610.4 862.3 611.3 C859.0 612.2 852.8 612.0 848.4 611.3 C844.0 610.6 839.1 609.4 835.9 607.1 C832.6 604.8 829.8 602.3 828.9 597.4 C828.0 592.5 827.5 581.6 830.3 577.9Z" fill="#f6f6f6" stroke="#222" stroke-width="1.6" stroke-linejoin="round" stroke-linecap="round"/>
<path d="M835.9 583.4 C837.0 580.8 842.8 579.3 845.6 579.3 C848.4 579.3 851.7 580.8 852.6 583.4 C853.5 586.0 851.0 591.1 851.2 594.6 C851.4 598.1 854.9 601.8 854.0 604.3 C853.1 606.8 848.4 609.7 845.6 609.9 C842.8 610.1 838.4 608.2 837.3 605.7 C836.1 603.2 838.9 598.3 838.7 594.6 C838.5 590.9 834.8 586.0 835.9 583.4Z" fill="#1e1e1e"/>
<path d="M840.8 586.2 C841.4 584.8 845.6 582.9 847.0 583.4 C848.4 583.9 849.7 587.6 849.1 589.0 C848.5 590.4 844.9 592.3 843.5 591.8 C842.1 591.3 840.2 587.6 840.8 586.2Z" fill="#dcdcdc"/>
<path d="M842.9 597.4 C843.6 596.0 847.8 595.1 849.1 596.0 C850.4 596.9 851.2 601.5 850.5 602.9 C849.8 604.3 846.2 605.5 844.9 604.6 C843.6 603.7 842.2 598.8 842.9 597.4Z" fill="#a9a9a9"/>
<path d="M855.4 581.4 C856.0 580.5 860.4 581.7 862.3 583.4 C864.2 585.1 866.1 588.5 866.8 591.8 C867.4 595.0 867.1 600.3 866.2 602.9 C865.3 605.5 862.9 608.0 861.6 607.1 C860.3 606.2 858.7 600.4 858.2 597.4 C857.7 594.4 858.9 591.7 858.4 589.0 C857.9 586.3 854.8 582.3 855.4 581.4Z" fill="#fff" stroke="#222" stroke-width="1.8" stroke-linejoin="round" stroke-linecap="round"/>
<path d="M859.5 584.8 C860.2 585.7 863.0 587.8 863.7 590.4 C864.4 593.0 863.7 598.5 863.7 600.1" fill="none" stroke="#111" stroke-width="2.2" stroke-linejoin="round" stroke-linecap="round"/>
<path d="M837.3 529.9 C839.1 527.9 842.6 527.6 845.6 527.1 C848.6 526.6 852.5 526.2 855.4 527.1 C858.3 528.0 861.3 530.5 863.0 532.7 C864.7 534.9 865.0 538.1 865.8 540.3 C866.6 542.5 866.6 544.3 867.9 545.9 C869.2 547.5 872.3 548.5 873.4 550.1 C874.5 551.7 874.9 553.9 874.3 555.6 C873.7 557.3 871.6 559.1 869.6 560.1 C867.6 561.1 864.7 561.0 862.3 561.5 C859.9 562.0 857.2 562.2 855.4 562.9 C853.5 563.6 852.4 565.8 851.2 565.6 C850.0 565.4 849.8 562.7 848.4 561.5 C847.0 560.3 844.5 559.8 842.9 558.4 C841.3 557.0 839.6 555.0 838.7 552.9 C837.8 550.8 838.0 548.2 837.3 545.9 C836.6 543.6 834.5 541.6 834.5 538.9 C834.5 536.2 835.4 531.9 837.3 529.9Z" fill="#fff" stroke="#9a9a9a" stroke-width="0.9" stroke-linejoin="round" stroke-linecap="round"/>
<ellipse cx="854.3" cy="534.5" rx="2.5" ry="4" fill="#111" transform="rotate(-22 854.3 534.5)"/>
<circle cx="847.0" cy="548.7" r="1" fill="#222"/><circle cx="849.1" cy="543.1" r="0.8" fill="#444"/>
<path d="M838.0 540.3 C838.8 539.8 841.6 537.4 842.9 537.6 C844.2 537.8 845.1 541.0 845.6 541.7" fill="none" stroke="#777" stroke-width="1" stroke-linejoin="round" stroke-linecap="round"/>
<path d="M869.3 552.9 C870.0 553.2 872.9 553.9 873.4 554.9 C873.9 555.9 872.3 558.4 872.1 559.1" fill="none" stroke="#666" stroke-width="1.1" stroke-linejoin="round" stroke-linecap="round"/>
<path d="M833.1 561.2 C833.8 559.7 836.6 558.2 838.7 557.7 C840.8 557.2 843.9 557.6 845.6 558.4 C847.3 559.2 848.7 561.2 848.7 562.6 C848.8 564.0 845.7 565.6 845.9 566.8 C846.1 567.9 850.1 568.8 850.1 569.5 C850.1 570.2 847.5 571.2 845.6 571.2 C843.7 571.2 840.6 570.2 838.7 569.5 C836.9 568.8 835.4 568.2 834.5 566.8 C833.6 565.4 832.4 562.7 833.1 561.2Z" fill="#fff" stroke="#111" stroke-width="1.8" stroke-linejoin="round" stroke-linecap="round"/>
<path d="M828.9 534.8 C829.4 535.3 831.5 536.5 831.7 537.6 C831.9 538.8 830.5 541.0 830.3 541.7" fill="none" stroke="#333" stroke-width="1.6" stroke-linejoin="round" stroke-linecap="round"/>
<path d="M830.3 525.7 C830.3 524.6 834.3 523.8 834.5 522.3 C834.7 520.8 832.3 518.5 831.7 516.7 C831.1 515.0 830.5 512.9 831.0 511.8 C831.5 510.8 833.3 509.8 834.5 510.4 C835.7 511.0 836.8 513.8 838.0 515.3 C839.2 516.8 840.6 520.0 841.5 519.5 C842.4 519.0 843.4 514.8 843.5 512.5 C843.6 510.2 841.9 507.0 842.2 505.6 C842.6 504.2 844.7 503.8 845.6 504.2 C846.5 504.6 847.5 506.0 847.7 508.3 C847.9 510.6 846.6 516.2 847.0 518.1 C847.4 520.0 849.0 520.7 849.8 519.5 C850.6 518.3 851.0 512.7 851.9 511.1 C852.8 509.5 854.9 509.0 855.4 509.7 C855.9 510.4 855.2 513.3 854.7 515.3 C854.2 517.3 852.0 520.8 852.6 521.6 C853.2 522.4 856.8 520.2 858.2 520.2 C859.6 520.2 860.9 520.8 860.9 521.6 C860.9 522.4 859.6 524.2 858.2 525.0 C856.8 525.8 854.7 525.8 852.6 526.4 C850.5 527.0 847.7 527.9 845.6 528.5 C843.5 529.1 842.0 529.8 840.1 529.9 C838.2 530.0 836.1 529.9 834.5 529.2 C832.9 528.5 830.3 526.9 830.3 525.7Z" fill="#7c7c7c"/>
<path d="M798.3 577.9 C799.0 575.8 800.9 574.4 802.5 572.3 C804.1 570.2 806.2 567.2 808.1 565.4 C810.0 563.5 811.3 561.9 813.6 561.2 C815.9 560.5 819.5 560.3 822.0 561.2 C824.5 562.1 827.4 564.5 828.9 566.8 C830.4 569.1 831.2 572.1 831.2 575.1 C831.2 578.1 830.5 582.2 829.2 584.8 C827.9 587.4 825.8 589.4 823.4 590.7 C821.0 592.0 817.5 592.8 815.0 592.6 C812.5 592.4 810.2 589.8 808.1 589.3 C806.0 588.8 804.1 590.0 802.5 589.3 C800.9 588.5 799.0 586.7 798.3 584.8 C797.6 582.9 797.6 580.0 798.3 577.9Z" fill="#3a3a3a" stroke="#111" stroke-width="1.3" stroke-linejoin="round" stroke-linecap="round"/>
<circle cx="803.9" cy="580.4" r="5" fill="#d9d9d9"/><circle cx="802.8" cy="578.7" r="2" fill="#fff"/>
<ellipse cx="818.5" cy="570.9" rx="5.2" ry="6.2" fill="#fff" stroke="#111" stroke-width="1" transform="rotate(-20 818.5 570.9)"/>
<ellipse cx="818.0" cy="571.2" rx="2.2" ry="3" fill="#111"/>
<path d="M808.8 568.2 L813.6 577.9" fill="none" stroke="#eee" stroke-width="1.5" stroke-linejoin="round" stroke-linecap="round"/>
<path d="M806.7 572.3 L810.9 581.4" fill="none" stroke="#bbb" stroke-width="1.2" stroke-linejoin="round" stroke-linecap="round"/>
<path d="M808.1 559.8 C809.2 559.4 812.6 557.8 815.0 557.7 C817.4 557.7 821.4 559.2 822.7 559.5" fill="none" stroke="#222" stroke-width="2" stroke-linejoin="round" stroke-linecap="round"/>
<path d="M805.3 561.2 C805.6 560.5 806.5 557.4 807.4 557.0 C808.3 556.6 810.3 558.8 810.9 559.1" fill="none" stroke="#444" stroke-width="1.4" stroke-linejoin="round" stroke-linecap="round"/>
<circle cx="826.4" cy="573.0" r="1.1" fill="#eee"/><circle cx="824.8" cy="582.1" r="1.1" fill="#ddd"/>
<path d="M812.3 591.8 C813.9 589.9 820.2 590.9 823.4 590.4 C826.6 589.9 829.6 587.8 831.7 589.0 C833.8 590.2 835.9 594.6 835.9 597.4 C835.9 600.2 834.2 604.1 831.7 605.7 C829.2 607.3 823.6 607.8 820.6 607.1 C817.6 606.4 815.0 604.0 813.6 601.5 C812.2 599.0 810.7 593.6 812.3 591.8Z" fill="#2a2a2a"/>
<path d="M817.8 596.0 C818.8 594.9 824.6 593.9 826.2 594.6 C827.8 595.3 828.7 599.0 827.6 600.1 C826.5 601.2 821.5 602.2 819.9 601.5 C818.3 600.8 816.8 597.1 817.8 596.0Z" fill="#8e8e8e"/>
<path d="M799.9 638.1 C800.9 637.3 806.3 644.5 810.6 646.1 C814.9 647.7 821.3 648.4 825.9 647.6 C830.5 646.8 834.5 642.0 838.1 641.5 C841.7 641.0 844.9 642.1 847.3 644.6 C849.7 647.1 854.2 653.7 852.7 656.5 C851.2 659.3 843.9 661.1 838.1 661.4 C832.4 661.7 823.8 660.1 818.2 658.3 C812.6 656.5 807.5 654.1 804.5 650.7 C801.5 647.3 798.9 638.9 799.9 638.1Z" fill="#b9b9b9"/>
<path d="M844.3 656.5 C845.1 655.5 852.8 659.6 856.5 659.6 C860.2 659.6 864.9 655.9 866.4 656.5 C867.9 657.1 868.1 661.9 865.7 663.4 C863.3 664.9 855.5 666.9 851.9 665.7 C848.3 664.6 843.5 657.5 844.3 656.5Z" fill="#dedede"/>
<path d="M815.2 647.3 C817.0 648.1 822.6 651.6 825.9 651.9 C829.2 652.1 832.5 648.3 835.1 648.8 C837.7 649.3 840.2 654.0 841.2 655.0" fill="none" stroke="#ececec" stroke-width="1.6" stroke-linejoin="round" stroke-linecap="round"/>
<path d="M859.6 598.4 C860.2 595.3 864.1 596.6 865.7 599.9 C867.4 603.2 869.0 612.1 869.5 618.2 C870.0 624.3 869.7 633.5 868.7 636.6 C867.7 639.7 864.5 640.0 863.4 636.9 C862.3 633.8 862.5 624.6 861.9 618.2 C861.3 611.8 859.0 601.5 859.6 598.4Z" fill="#fff" stroke="#333" stroke-width="1.3" stroke-linejoin="round" stroke-linecap="round"/>
<path d="M863.8 606.0 L865.1 635.1" fill="none" stroke="#111" stroke-width="2.2" stroke-linejoin="round" stroke-linecap="round" stroke-dasharray="2.2 1.8"/>
<path d="M802.9 602.9 C804.9 601.0 807.3 601.0 810.6 600.7 C813.9 600.5 819.0 600.8 822.8 601.4 C826.6 602.0 830.4 603.0 833.5 604.5 C836.6 606.0 839.4 608.1 841.2 610.6 C843.1 613.1 844.6 616.5 844.6 619.8 C844.6 623.1 843.0 627.1 841.5 630.5 C840.0 633.9 838.0 637.6 835.4 640.0 C832.8 642.4 828.8 644.4 825.9 644.6 C823.0 644.9 820.8 641.5 818.2 641.5 C815.7 641.5 813.2 644.4 810.6 644.6 C808.0 644.9 804.9 644.6 802.9 643.0 C800.9 641.4 799.4 638.2 798.4 635.1 C797.4 632.0 796.8 628.2 796.8 624.4 C796.8 620.6 797.4 615.7 798.4 612.1 C799.4 608.5 800.9 604.8 802.9 602.9Z" fill="#060606"/>
<path d="M802.6 603.3 C801.9 602.6 803.1 599.6 804.2 599.0 C805.3 598.4 808.7 599.2 809.4 599.9 C810.1 600.6 809.6 602.7 808.5 603.3 C807.4 603.9 803.3 604.0 802.6 603.3Z" fill="#060606"/>
<path d="M838.1 616.7 C839.4 614.5 841.8 614.4 844.3 614.4 C846.8 614.4 851.0 615.0 853.4 616.7 C855.8 618.4 857.8 621.9 858.9 624.4 C860.0 626.9 860.5 629.5 859.9 632.0 C859.3 634.5 857.4 637.7 855.3 639.1 C853.2 640.5 849.8 641.0 847.3 640.6 C844.8 640.2 842.2 638.8 840.4 636.6 C838.6 634.4 837.0 630.7 836.6 627.4 C836.2 624.1 836.8 618.9 838.1 616.7Z" fill="#fbfbfb" stroke="#555" stroke-width="0.8" stroke-linejoin="round" stroke-linecap="round"/>
<ellipse cx="845.0" cy="620.7" rx="4.4" ry="4" fill="#060606"/>
<ellipse cx="855.0" cy="629.9" rx="2" ry="1.6" fill="#111"/>
<path d="M848.1 636.9 C849.9 633.8 856.3 633.5 859.6 633.5 C862.9 633.5 866.5 634.9 868.1 636.9 C869.7 638.9 869.4 642.7 869.0 645.8 C868.6 648.9 867.8 653.5 865.7 655.3 C863.6 657.1 859.3 657.4 856.5 656.8 C853.7 656.2 850.2 655.2 848.8 651.9 C847.4 648.6 846.3 640.0 848.1 636.9Z" fill="#080808"/>
<path d="M802.9 641.2 C803.5 640.7 805.5 638.0 806.8 638.1 C808.1 638.2 810.0 641.4 810.6 642.0" fill="none" stroke="#ddd" stroke-width="1.1" stroke-linejoin="round" stroke-linecap="round"/>
<path d="M802.9 589.2 C804.2 586.3 811.4 583.6 815.2 583.1 C819.0 582.6 823.9 583.8 825.9 586.1 C827.9 588.4 828.4 594.2 827.4 596.8 C826.4 599.3 823.1 600.8 819.8 601.4 C816.5 602.0 810.3 602.7 807.5 600.7 C804.7 598.7 801.6 592.1 802.9 589.2Z" fill="#2e2e2e"/>
<circle cx="845.0" cy="593.0" r="6.5" fill="#8a8a8a" stroke="#222" stroke-width="1.2"/><circle cx="844.0" cy="591.6" r="2.4" fill="#e4e4e4"/>
<path d="M814.4 599.6 L817.5 599.6 L821.0 599.9" fill="none" stroke="#ddd" stroke-width="1.6" stroke-linejoin="round" stroke-linecap="round" stroke-dasharray="1.6 1.6"/>
<rect x="776.7" y="542.8" width="57" height="12.6" rx="1" fill="#6e6e6e" stroke="#3a3a3a" stroke-width="1"/>
<text x="780" y="553.4" textLength="50.5" lengthAdjust="spacingAndGlyphs" style="font-family:'Liberation Serif',serif;font-size:12px;font-weight:bold;fill:#fff;stroke:#1a1a1a;stroke-width:0.35">WEIGH PIG</text>
<g transform="translate(776.7 488.8) scale(0.901 0.944)">
<path d="M7 0.5H52.5Q56.5 0.5 56.3 5L54.3 49Q54 55.2 48 55.2H9Q3 55.2 2.6 49L0.5 8Q0.5 0.5 7 0.5Z" fill="#333"/>
<path d="M8 2.4H51Q54.2 2.4 54.1 6L52.3 48.5Q52 53 48 53H9.5Q5.2 53 4.9 48.5L2.9 8.5Q2.9 2.4 8 2.4Z" fill="#808080"/>
<path d="M9 3.3H45" stroke="#dcdcdc" stroke-width="1.7" fill="none" stroke-linecap="round"/>
<path d="M51.6 11V45" stroke="#b2b2b2" stroke-width="1.6" fill="none" stroke-linecap="round"/>
<path d="M8 51.6H49" stroke="#4c4c4c" stroke-width="2.2" fill="none" stroke-linecap="round"/>
<rect x="8.4" y="8" width="41.2" height="40" rx="3.5" fill="#fbfbfb" stroke="#262626" stroke-width="1.7"/>
<path d="M22.5 47.6H34.5L28.5 54.2Z" fill="#fff" stroke="#2a2a2a" stroke-width="1.3" stroke-linejoin="round"/>
<rect x="46" y="-0.5" width="11.5" height="11.5" rx="2" fill="#555"/>
<path d="M48.3 1.6L55.2 8.6M55.2 1.6L48.3 8.6" stroke="#fff" stroke-width="2.5" stroke-linecap="round" fill="none"/>
<path d="M13 33C10.5 24 13 14.5 22 11.5C30 9 40 10 44.5 17C47.5 23 46.5 31 45.5 38L47 41.5L43.5 40.5L44 43.5L40 41L22 41.5L18.5 43.5L18.5 40L14 41L16 37L12 36Z" fill="#151515"/>
<path d="M19.5 28C19.5 21 26 18.5 31.5 19.5C38.5 20 43 24 42.5 31C42 38.5 37 43 31 43C24.5 43 19.5 37 19.5 28Z" fill="#ececec"/>
<path d="M18 28C19 20 27 15 35 17C30 20 25 24 22.5 29.5Z" fill="#151515"/>
<path d="M33 17C38 17.5 43.5 22 43.5 30C41 25 37 21 33 17Z" fill="#151515"/>
<ellipse cx="24.6" cy="31" rx="2.6" ry="3.1" fill="#0c0c0c"/><ellipse cx="37" cy="31" rx="2.6" ry="3.1" fill="#0c0c0c"/>
<path d="M21.5 26.5Q24.5 24.6 27.5 26.3M34 26.3Q37 24.6 40 26.5" stroke="#222" stroke-width="1" fill="none"/>
<path d="M26 36.5Q31 41.5 36.5 36.5Q31 38.6 26 36.5Z" fill="#fff" stroke="#333" stroke-width="0.9"/>
<path d="M22 45.5Q24 41.5 28 42.5L31 44L35 42.5Q40 42.5 41.5 46L43.5 47.5H22Z" fill="#2a2a2a"/>
<circle cx="41.2" cy="45.8" r="1.6" fill="#111"/>
</g>
<text x="782.5" y="670.3" textLength="60" lengthAdjust="spacingAndGlyphs" style="font-family:'Liberation Serif',serif;font-size:20px;font-weight:bold;fill:#111;stroke:#111;stroke-width:2.6;stroke-linejoin:round">·35·18 XP</text>
<text x="782.5" y="670.3" textLength="60" lengthAdjust="spacingAndGlyphs" style="font-family:'Liberation Serif',serif;font-size:20px;font-weight:bold;fill:#fff">·35·18 XP</text>
</g><!--/ill3-->
<!-- CALLOUT -->
<rect x="175.4" y="548.4" width="183" height="21.6" fill="#fff" stroke="#111" stroke-width="1.9"/>
<text x="181.8" y="564.3" style="font-size:17.95px">Player B fed the pig</text>

</svg>
</body>
</html>
